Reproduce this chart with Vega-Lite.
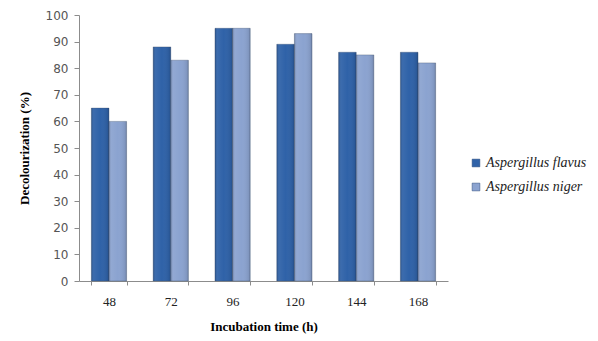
{
  "$schema": "https://vega.github.io/schema/vega-lite/v6.json",
  "autosize": "none",
  "width": 369,
  "height": 266,
  "padding": {"left": 79, "top": 15, "right": 150, "bottom": 60},
  "background": "white",
  "data": {
    "values": [
      {"time": "48", "species": "Aspergillus flavus", "value": 65},
      {"time": "48", "species": "Aspergillus niger", "value": 60},
      {"time": "72", "species": "Aspergillus flavus", "value": 88},
      {"time": "72", "species": "Aspergillus niger", "value": 83},
      {"time": "96", "species": "Aspergillus flavus", "value": 95},
      {"time": "96", "species": "Aspergillus niger", "value": 95},
      {"time": "120", "species": "Aspergillus flavus", "value": 89},
      {"time": "120", "species": "Aspergillus niger", "value": 93},
      {"time": "144", "species": "Aspergillus flavus", "value": 86},
      {"time": "144", "species": "Aspergillus niger", "value": 85},
      {"time": "168", "species": "Aspergillus flavus", "value": 86},
      {"time": "168", "species": "Aspergillus niger", "value": 82}
    ]
  },
  "encoding": {
    "x": {
      "field": "time",
      "type": "ordinal",
      "sort": ["48", "72", "96", "120", "144", "168"],
      "scale": {"paddingInner": 0.43, "paddingOuter": 0.2},
      "axis": {
        "title": "Incubation time (h)",
        "titleFont": "Liberation Serif",
        "titleFontSize": 13,
        "titleFontWeight": "bold",
        "titleColor": "#000000",
        "titlePadding": 12,
        "labelFont": "Liberation Serif",
        "labelFontSize": 13,
        "labelColor": "#222222",
        "labelAngle": 0,
        "labelPadding": 10,
        "domainColor": "#8c8c8c",
        "tickColor": "#8c8c8c",
        "tickBand": "extent",
        "tickSize": 4
      }
    },
    "xOffset": {"field": "species", "type": "nominal"},
    "y": {
      "field": "value",
      "type": "quantitative",
      "scale": {"domain": [0, 100]},
      "axis": {
        "title": "Decolourization (%)",
        "titleFont": "Liberation Serif",
        "titleFontSize": 13,
        "titleFontWeight": "bold",
        "titleColor": "#000000",
        "titlePadding": 14,
        "values": [0, 10, 20, 30, 40, 50, 60, 70, 80, 90, 100],
        "labelOverlap": false,
        "grid": false,
        "labelFont": "DejaVu Sans",
        "labelFontSize": 12,
        "labelColor": "#555555",
        "labelPadding": 6,
        "domainColor": "#8c8c8c",
        "tickColor": "#8c8c8c",
        "tickSize": 5
      }
    }
  },
  "layer": [
    {
      "mark": {"type": "bar", "stroke": "#3a4f6e", "strokeWidth": 0.6, "strokeOpacity": 0.6},
      "encoding": {
        "color": {
          "field": "species",
          "type": "nominal",
          "scale": {"range": ["#2f62a8", "#8ba3d0"]},
          "legend": {
            "title": null,
            "orient": "none",
            "legendX": 390,
            "legendY": 141,
            "symbolType": "square",
            "symbolSize": 60,
            "symbolStrokeColor": "#2a4a7a",
            "symbolStrokeWidth": 0.5,
            "labelFont": "Liberation Serif",
            "labelFontSize": 14,
            "labelFontStyle": "italic",
            "labelColor": "#222222",
            "rowPadding": 10,
            "labelOffset": 3
          }
        }
      }
    },
    {
      "mark": {
        "type": "bar",
        "strokeWidth": 0,
        "fill": {
          "gradient": "linear",
          "x1": 0, "y1": 0, "x2": 1, "y2": 0,
          "stops": [
            {"offset": 0, "color": "rgba(0,0,0,0.18)"},
            {"offset": 0.15, "color": "rgba(255,255,255,0.06)"},
            {"offset": 0.5, "color": "rgba(255,255,255,0.0)"},
            {"offset": 0.9, "color": "rgba(0,0,0,0.08)"},
            {"offset": 1, "color": "rgba(0,0,0,0.2)"}
          ]
        }
      }
    }
  ],
  "config": {"view": {"stroke": null}}
}
